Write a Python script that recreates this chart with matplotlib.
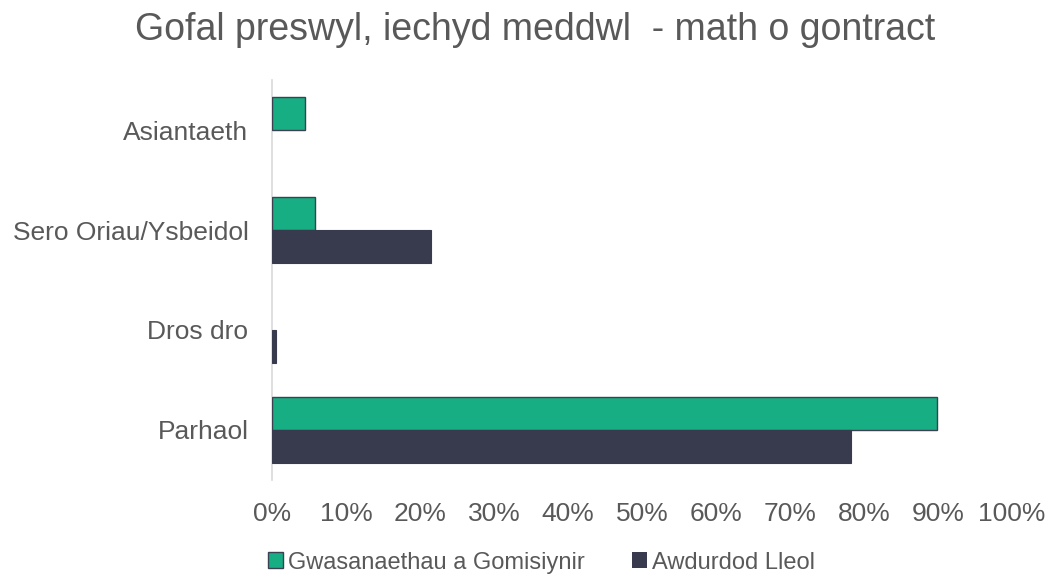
import matplotlib
matplotlib.use("Agg")
import matplotlib.pyplot as plt
from matplotlib.ticker import FuncFormatter, MultipleLocator
import numpy as np

categories = ["Asiantaeth", "Sero Oriau/Ysbeidol", "Dros dro", "Parhaol"]
commissioned = [4.5, 5.8, 0.0, 89.9]   # Gwasanaethau a Gomisiynir
local_auth = [0.0, 21.5, 0.6, 78.3]    # Awdurdod Lleol
series_names = ["Gwasanaethau a Gomisiynir", "Awdurdod Lleol"]

GREEN = "#17AE84"
DARK = "#383A4E"
TEXT = "#595959"

plt.rcParams["font.family"] = ["Liberation Sans", "DejaVu Sans"]

fig = plt.figure(figsize=(10.51, 5.74), dpi=100)
ax = fig.add_axes([0.2588, 0.1638, 0.7041, 0.6968])

y = np.arange(len(categories))
h = 0.33
# no outline on empty bars
lw_green = [1.0 if v > 0 else 0 for v in commissioned]
lw_dark = [0.8 if v > 0 else 0 for v in local_auth]
ax.barh(y - h / 2, commissioned, height=h, color=GREEN, edgecolor="#3B4150",
        linewidth=lw_green, label=series_names[0])
ax.barh(y + h / 2, local_auth, height=h, color=DARK, edgecolor=DARK,
        linewidth=lw_dark, label=series_names[1])

ax.set_ylim(-0.5, len(categories) - 0.5)
ax.invert_yaxis()
ax.set_xlim(0, 100)
ax.xaxis.set_major_locator(MultipleLocator(10))
ax.xaxis.set_major_formatter(FuncFormatter(lambda v, p: f"{v:.0f}%"))
ax.set_yticks(y)
ax.set_yticklabels(categories)

for s in ["top", "right", "bottom"]:
    ax.spines[s].set_visible(False)
ax.spines["left"].set_color("#D9D9D9")
ax.spines["left"].set_linewidth(1.2)
ax.spines["left"].set_zorder(0.5)

ax.tick_params(axis="x", length=0, pad=16, labelsize=19, labelcolor=TEXT)
ax.tick_params(axis="y", length=0, pad=17, labelsize=19, labelcolor=TEXT)

fig.text(0.509, 0.948, "Gofal preswyl, iechyd meddwl  - math o gontract",
         ha="center", va="center", fontsize=27, color=TEXT)

leg = fig.legend(loc="center", bbox_to_anchor=(0.515, 0.02), ncol=2,
                 frameon=False, fontsize=17, handlelength=0.65, handleheight=0.65,
                 handletextpad=0.2, columnspacing=2.0)
for t in leg.get_texts():
    t.set_color(TEXT)

fig.savefig("out.png", dpi=100)
